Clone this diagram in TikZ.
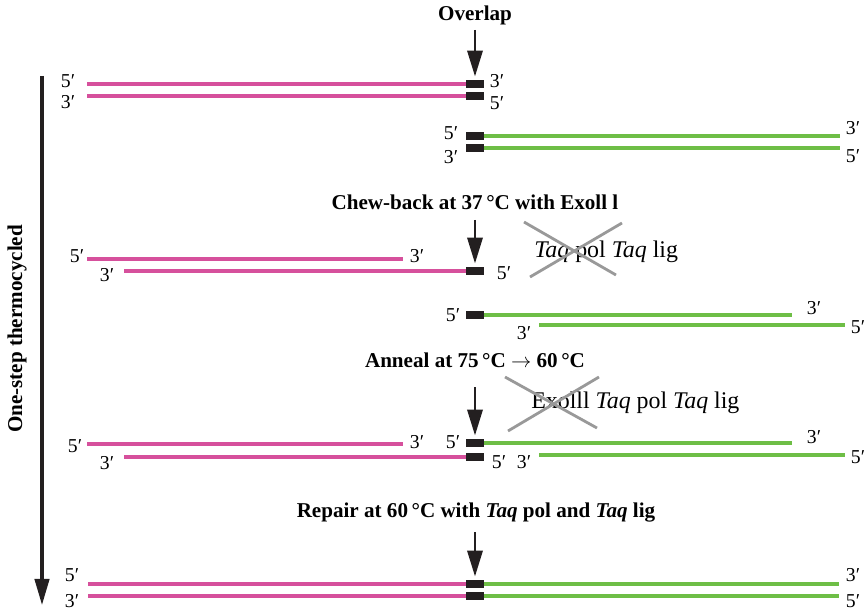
\documentclass[tikz,border=0pt]{standalone}
\usepackage{fontspec}
\setmainfont{Liberation Serif}
\usetikzlibrary{arrows.meta,positioning}
\definecolor{dnapink}{RGB}{214,80,156}
\definecolor{dnagreen}{RGB}{110,190,70}
\definecolor{blockgray}{RGB}{35,31,32}
\tikzset{
  blk/.style = {rectangle, fill=blockgray, inner sep=0pt, minimum width=0.45cm, minimum height=0.2cm},
  pinkstr/.style = {draw=dnapink, line width=2.2pt},
  greenstr/.style = {draw=dnagreen, line width=2.2pt},
  endlbl/.style = {inner sep=0pt, font=\fontsize{14}{16}\selectfont},
  steplbl/.style = {inner sep=0pt, font=\fontsize{15}{17}\selectfont\bfseries},
  enzlbl/.style = {inner sep=0pt, font=\fontsize{17}{19}\selectfont},
  downarr/.style = {-{Triangle[width=0.38cm,length=0.65cm]}, line width=2pt, draw=blockgray, shorten >=0.08cm},
  crossout/.style = {draw=black!40, line width=2pt}
}

\begin{document}
\begin{tikzpicture}[x=0.025cm, y=-0.025cm]
    \useasboundingbox (0,0) rectangle (864,611);
    % side arrow
    \coordinate (cyctop) at (42,76);
    \coordinate (cycbot) at (42,605);
    \draw[-{Triangle[width=0.36cm,length=0.65cm]}, line width=2.2pt, draw=blockgray] (cyctop) -- (cycbot);
    \node (cyc) [steplbl, rotate=90] at (17,329) {One-step thermocycled};

    % overlap
    \node (ovl) [steplbl] at (475,15) {Overlap};
    \coordinate (a1) at (475,30);
    \node (b1t) [blk] at (475,84) {};
    \node (b1b) [blk] at (475,96) {};
    \coordinate (p1t) at (87,84);
    \coordinate (p1b) at (87,96);
    \draw[pinkstr] (p1t) -- (b1t.west);
    \draw[pinkstr] (p1b) -- (b1b.west);
    \node (l1a) [endlbl] at (68,81) {5′};
    \node (l1b) [endlbl] at (68,102) {3′};
    \node (l1c) [endlbl] at (497,81) {3′};
    \node (l1d) [endlbl] at (497,103) {5′};
    \node (g1t) [blk] at (475,136) {};
    \node (g1b) [blk] at (475,148) {};
    \coordinate (q1t) at (840,136);
    \coordinate (q1b) at (840,148);
    \draw[greenstr] (g1t.east) -- (q1t);
    \draw[greenstr] (g1b.east) -- (q1b);
    \node (l1e) [endlbl] at (451,133) {5′};
    \node (l1f) [endlbl] at (451,157) {3′};
    \node (l1g) [endlbl] at (853,128) {3′};
    \node (l1h) [endlbl] at (853,156) {5′};
    \draw[downarr] (a1) -- (b1t.north);

    % chew-back
    \node (chw) [steplbl] at (475,202) {Chew-back at 37\,°C with Exoll l};
    \coordinate (a2) at (475,220);
    \node (b2) [blk] at (475,271) {};
    \coordinate (p2t) at (87,259);
    \coordinate (p2e) at (403,259);
    \coordinate (p2b) at (124,271);
    \draw[pinkstr] (p2t) -- (p2e);
    \draw[pinkstr] (p2b) -- (b2.west);
    \node (l2a) [endlbl] at (77,256) {5′};
    \node (l2b) [endlbl] at (107,275) {3′};
    \node (l2c) [endlbl] at (417,256) {3′};
    \node (l2d) [endlbl] at (504,273) {5′};
    \node (tq2) [enzlbl, anchor=west] at (534,252) {\textit{Taq} pol \textit{Taq} lig};
    \draw[crossout] (524,222) -- (616,275);
    \draw[crossout] (622,223) -- (530,277);
    \node (g2) [blk] at (475,315) {};
    \coordinate (q2t) at (792,315);
    \coordinate (q2s) at (539,325);
    \coordinate (q2b) at (845,325);
    \draw[greenstr] (g2.east) -- (q2t);
    \draw[greenstr] (q2s) -- (q2b);
    \node (l2e) [endlbl] at (453,315) {5′};
    \node (l2f) [endlbl] at (814,308) {3′};
    \node (l2g) [endlbl] at (524,333) {3′};
    \node (l2h) [endlbl] at (858,327) {5′};
    \draw[downarr] (a2) -- (b2.north);

    % anneal
    \node (anl) [steplbl] at (475,360) {Anneal at 75\,°C $\rightarrow$ 60\,°C};
    \coordinate (a3) at (475,387);
    \node (b3t) [blk] at (475,443) {};
    \node (b3b) [blk] at (475,457) {};
    \coordinate (p3t) at (87,444);
    \coordinate (p3e) at (403,444);
    \coordinate (p3b) at (124,457);
    \draw[pinkstr] (p3t) -- (p3e);
    \draw[pinkstr] (p3b) -- (b3b.west);
    \node (l3a) [endlbl] at (75,446) {5′};
    \node (l3b) [endlbl] at (107,463) {3′};
    \node (l3c) [endlbl] at (417,442) {3′};
    \node (l3d) [endlbl] at (453,442) {5′};
    \node (l3e) [endlbl] at (499,462) {5′};
    \node (tq3) [enzlbl, anchor=west] at (531,403) {Exolll \textit{Taq} pol \textit{Taq} lig};
    \draw[crossout] (505,377) -- (597,428);
    \draw[crossout] (599,377) -- (508,431);
    \coordinate (q3t) at (792,443);
    \coordinate (q3s) at (539,455);
    \coordinate (q3b) at (845,455);
    \draw[greenstr] (b3t.east) -- (q3t);
    \draw[greenstr] (q3s) -- (q3b);
    \node (l3f) [endlbl] at (814,437) {3′};
    \node (l3g) [endlbl] at (524,462) {3′};
    \node (l3h) [endlbl] at (858,457) {5′};
    \draw[downarr] (a3) -- (b3t.north);

    % repair
    \node (rep) [steplbl] at (476,513) {Repair at 60\,°C with \textit{Taq} pol and \textit{Taq} lig};
    \coordinate (a4) at (475,532);
    \node (b4t) [blk] at (475,584) {};
    \node (b4b) [blk] at (475,596) {};
    \coordinate (p4t) at (88,584);
    \coordinate (p4b) at (88,596);
    \coordinate (q4t) at (839,584);
    \coordinate (q4b) at (839,596);
    \draw[pinkstr] (p4t) -- (b4t.west);
    \draw[pinkstr] (p4b) -- (b4b.west);
    \draw[greenstr] (b4t.east) -- (q4t);
    \draw[greenstr] (b4b.east) -- (q4b);
    \node (l4a) [endlbl] at (72,575) {5′};
    \node (l4b) [endlbl] at (72,601) {3′};
    \node (l4c) [endlbl] at (853,575) {3′};
    \node (l4d) [endlbl] at (853,601) {5′};
    \draw[downarr] (a4) -- (b4t.north);
\end{tikzpicture}
\end{document}
